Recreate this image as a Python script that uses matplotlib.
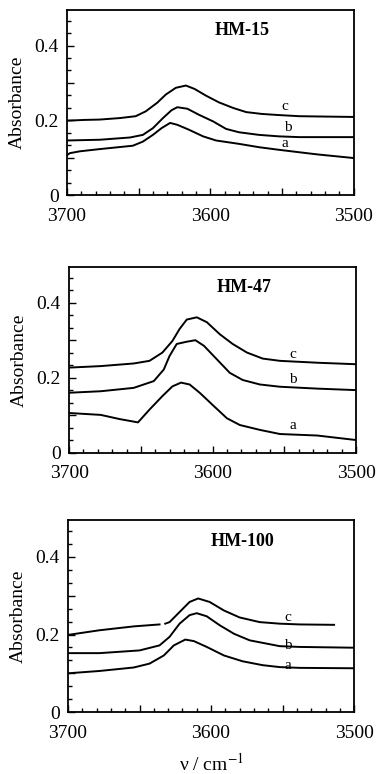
import matplotlib
matplotlib.use("Agg")
import matplotlib.pyplot as plt
from matplotlib.ticker import MultipleLocator, FuncFormatter

plt.rcParams['font.family'] = ['Liberation Serif', 'DejaVu Serif']
plt.rcParams['mathtext.fontset'] = 'stix'

nan = float('nan')

# HM-15 spectra (wavenumber / cm-1, absorbance)
hm15_c_x = [3700, 3688, 3677, 3663, 3652, 3645, 3637, 3631, 3624, 3617, 3611, 3603, 3594, 3584, 3575, 3564, 3552, 3538, 3520, 3500]
hm15_c_y = [0.199, 0.201, 0.202, 0.206, 0.211, 0.224, 0.247, 0.269, 0.287, 0.293, 0.284, 0.266, 0.248, 0.233, 0.222, 0.217, 0.214, 0.211, 0.210, 0.209]
hm15_b_x = [3700, 3677, 3656, 3647, 3640, 3633, 3627, 3623, 3616, 3608, 3598, 3589, 3580, 3566, 3552, 3538, 3500]
hm15_b_y = [0.146, 0.148, 0.154, 0.161, 0.179, 0.206, 0.227, 0.235, 0.231, 0.215, 0.197, 0.177, 0.168, 0.161, 0.157, 0.155, 0.155]
hm15_a_x = [3700, 3698, 3691, 3677, 3654, 3647, 3640, 3634, 3628, 3623, 3615, 3605, 3596, 3580, 3566, 3552, 3526, 3500]
hm15_a_y = [0.106, 0.112, 0.117, 0.123, 0.132, 0.143, 0.161, 0.179, 0.193, 0.188, 0.175, 0.157, 0.146, 0.137, 0.128, 0.121, 0.109, 0.099]

# HM-47 spectra
hm47_c_x = [3700, 3678, 3655, 3644, 3635, 3628, 3623, 3618, 3611, 3604, 3595, 3586, 3576, 3565, 3553, 3527, 3500]
hm47_c_y = [0.227, 0.231, 0.238, 0.245, 0.267, 0.298, 0.330, 0.355, 0.361, 0.348, 0.316, 0.290, 0.267, 0.251, 0.245, 0.240, 0.236]
hm47_b_x = [3700, 3678, 3655, 3641, 3634, 3630, 3625, 3618, 3612, 3606, 3597, 3588, 3579, 3567, 3553, 3527, 3500]
hm47_b_y = [0.160, 0.164, 0.173, 0.191, 0.222, 0.258, 0.290, 0.296, 0.300, 0.285, 0.249, 0.213, 0.194, 0.182, 0.176, 0.171, 0.167]
hm47_a_x = [3700, 3678, 3665, 3652, 3644, 3635, 3628, 3622, 3616, 3609, 3599, 3590, 3581, 3567, 3553, 3527, 3500]
hm47_a_y = [0.106, 0.101, 0.090, 0.081, 0.115, 0.151, 0.177, 0.187, 0.182, 0.160, 0.124, 0.092, 0.074, 0.061, 0.050, 0.046, 0.034]

# HM-100 spectra (trace c has a short break near 3634)
hm100_c_x = [3700, 3678, 3654, 3636, 3634, 3632, 3629, 3622, 3615, 3609, 3601, 3591, 3580, 3566, 3552, 3538, 3514]
hm100_c_y = [0.199, 0.211, 0.221, 0.226, nan, 0.228, 0.232, 0.258, 0.284, 0.293, 0.284, 0.262, 0.244, 0.232, 0.228, 0.226, 0.225]
hm100_b_x = [3700, 3678, 3650, 3636, 3629, 3622, 3615, 3610, 3603, 3594, 3584, 3573, 3552, 3538, 3500]
hm100_b_y = [0.152, 0.152, 0.159, 0.172, 0.194, 0.228, 0.250, 0.255, 0.247, 0.224, 0.202, 0.185, 0.170, 0.168, 0.166]
hm100_a_x = [3700, 3678, 3654, 3643, 3633, 3626, 3618, 3612, 3603, 3591, 3578, 3564, 3552, 3538, 3500]
hm100_a_y = [0.100, 0.106, 0.115, 0.125, 0.146, 0.172, 0.187, 0.183, 0.168, 0.146, 0.131, 0.121, 0.116, 0.114, 0.113]

panels = [
    ("HM-15", [(hm15_a_x, hm15_a_y), (hm15_b_x, hm15_b_y), (hm15_c_x, hm15_c_y)],
     [(3548, 0.139), (3546, 0.182), (3548, 0.236)]),
    ("HM-47", [(hm47_a_x, hm47_a_y), (hm47_b_x, hm47_b_y), (hm47_c_x, hm47_c_y)],
     [(3544, 0.072), (3544, 0.196), (3544, 0.263)]),
    ("HM-100", [(hm100_a_x, hm100_a_y), (hm100_b_x, hm100_b_y), (hm100_c_x, hm100_c_y)],
     [(3546, 0.119), (3546, 0.172), (3546, 0.245)]),
]
curve_names = ["a", "b", "c"]

# axes boxes in figure fractions
boxes = [
    [0.175, 0.748, 0.751, 0.239],
    [0.181, 0.415, 0.751, 0.240],
    [0.178, 0.080, 0.749, 0.248],
]

fig = plt.figure(figsize=(3.82, 7.74), dpi=100)

def xfmt(v, pos):
    return "%d" % v if round(v) % 100 == 0 else ""

def yfmt(v, pos):
    k = int(round(v * 10))
    if k == 0:
        return "0"
    return "%.1f" % v if k % 2 == 0 else ""

for (title, curves, label_pos), box in zip(panels, boxes):
    ax = fig.add_axes(box)
    for (x, y) in curves:
        ax.plot(x, y, color='black', lw=1.4)
    for name, (lx, ly) in zip(curve_names, label_pos):
        ax.text(lx, ly, name, fontsize=11, ha='center', va='center')
    ax.text(3578, 0.44, title, fontsize=13, fontweight='bold', ha='center', va='center')
    ax.set_xlim(3700, 3500)
    ax.set_ylim(0, 0.495)
    ax.xaxis.set_major_locator(MultipleLocator(50))
    ax.xaxis.set_minor_locator(MultipleLocator(10))
    ax.yaxis.set_major_locator(MultipleLocator(0.1))
    ax.yaxis.set_minor_locator(MultipleLocator(0.1 / 3))
    ax.xaxis.set_major_formatter(FuncFormatter(xfmt))
    ax.yaxis.set_major_formatter(FuncFormatter(yfmt))
    ax.tick_params(which='both', direction='in', top=False, right=False, labelsize=14, width=1)
    ax.tick_params(which='major', length=5)
    ax.tick_params(which='minor', length=3)
    ax.tick_params(axis='x', pad=9)
    ax.tick_params(axis='y', pad=6)
    for s in ax.spines.values():
        s.set_linewidth(1.3)
    ax.set_ylabel("Absorbance", fontsize=14, labelpad=6)

ax.set_xlabel("ν / cm$^{-1}$", fontsize=14, labelpad=8)

fig.savefig("out.png", dpi=100)
